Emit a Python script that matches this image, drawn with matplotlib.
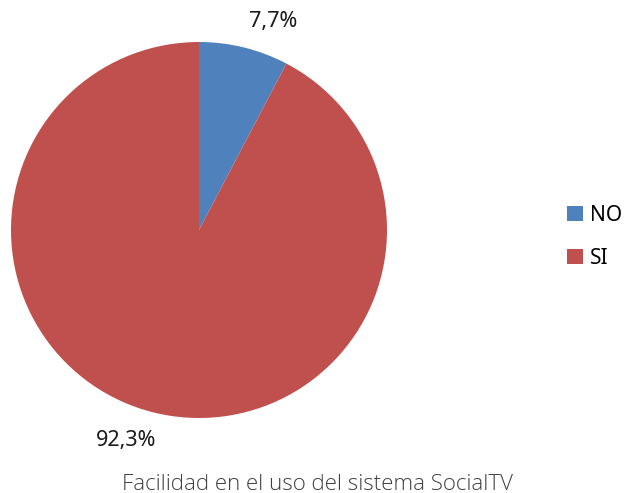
import matplotlib.pyplot as plt
from matplotlib.patches import Patch

categorias = ['NO', 'SI']
porcentajes = [7.7, 92.3]
colores = ['#4F81BD', '#C0504D']
etiquetas = ['7,7%', '92,3%']

fig = plt.figure(figsize=(6.24, 4.93), dpi=100)
W, H = 624, 493
cx, cy, r = 199, 230, 188
ax = fig.add_axes([(cx - r) / W, (H - cy - r) / H, 2 * r / W, 2 * r / H])

wedges, _ = ax.pie(porcentajes, colors=colores, startangle=90, counterclock=False,
                   radius=1, wedgeprops=dict(linewidth=0))
ax.set_xlim(-1, 1)
ax.set_ylim(-1, 1)
ax.set_aspect('equal')
ax.axis('off')

# etiquetas de porcentaje
pos_etq = [(0.394, 1.11), (-0.388, -1.12)]
for (x, y), t in zip(pos_etq, etiquetas):
    ax.text(x, y, t, ha='center', va='center', fontsize=15.5,
            family='Noto Sans', color='#1a1a1a', clip_on=False)

handles = [Patch(facecolor=c, edgecolor='none') for c in colores]
fig.legend(handles, categorias, loc='center left', bbox_to_anchor=(567 / W, 1 - 237 / H),
           frameon=False, borderaxespad=0, borderpad=0,
           prop={'family': 'Noto Sans', 'size': 15},
           handlelength=0.75, handleheight=0.75, handletextpad=0.35, labelspacing=1.05)

fig.text(317 / W, 1 - 484 / H, 'Facilidad en el uso del sistema SocialTV',
         ha='center', va='center', fontsize=16, family='Open Sans',
         fontweight=300, color='#404040')

fig.savefig('out.png', dpi=100)
